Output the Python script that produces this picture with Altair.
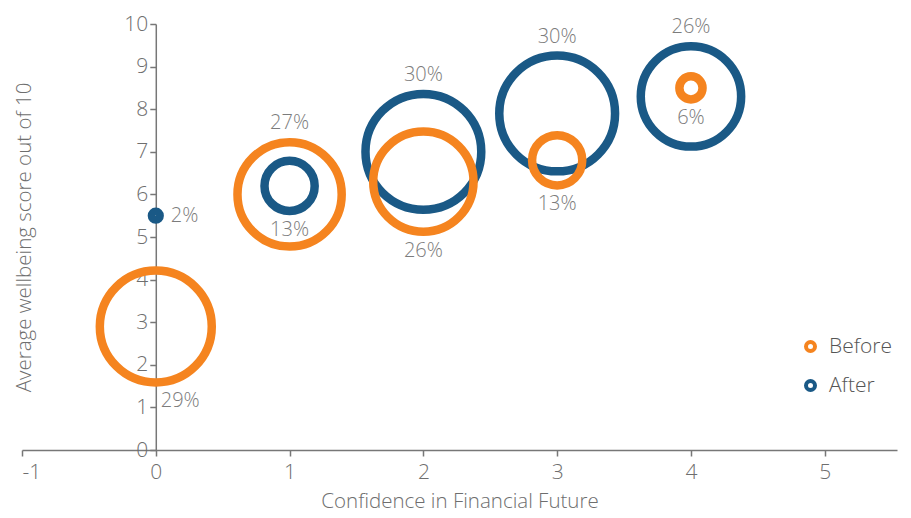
import altair as alt
import pandas as pd

# ---- data ----
x_values = [0, 1, 2, 3, 4]
before_scores = [2.9, 6.0, 6.3, 6.8, 8.5]
before_pct = [29, 27, 26, 13, 6]
before_place = ["belowright", "above", "below", "below", "below"]
after_scores = [5.5, 6.2, 7.0, 7.9, 8.3]
after_pct = [2, 13, 30, 30, 26]
after_place = ["right", "below", "above", "above", "above"]
x_ticks = [-1, 0, 1, 2, 3, 4, 5]
y_ticks = list(range(0, 11))
series = ["Before", "After"]
colors = ["#F5841F", "#1A5986"]

# ---- layout / style ----
W, H = 875, 426
X_DOMAIN = [-1, 5.54]
Y_DOMAIN = [0, 10]
PX_PER_PCT = 1.93          # bubble radius in px per percentage point
PPU_Y = H / (Y_DOMAIN[1] - Y_DOMAIN[0])
X0_PX = W * (0 - X_DOMAIN[0]) / (X_DOMAIN[1] - X_DOMAIN[0])
FONT = "Open Sans"
WEIGHT = 300
GREY = "#6e6e6e"
LABEL_GREY = "#7c7c7c"

rows = []
for s, ys, ps, pl in [("Before", before_scores, before_pct, before_place),
                      ("After", after_scores, after_pct, after_place)]:
    for xv, yv, pv, place in zip(x_values, ys, ps, pl):
        rows.append({"series": s, "x": xv, "y": yv, "pct": pv, "place": place,
                     "label": f"{pv}%"})
df = pd.DataFrame(rows)

max_size = 4 * (PX_PER_PCT * 30) ** 2

axis_common = dict(grid=False, tickSize=6,
                   labelFontSize=21, titleFontSize=20.5,
                   labelColor=GREY, titleColor=GREY,
                   domainColor="#777777", tickColor="#777777",
                   domainWidth=1.5, tickWidth=1.5,
                   labelFont=FONT, titleFont=FONT,
                   labelFontWeight=WEIGHT, titleFontWeight=WEIGHT,
                   labelExpr="'' + datum.value")

x_enc = alt.X("x:Q", scale=alt.Scale(domain=X_DOMAIN, nice=False, zero=False),
              axis=alt.Axis(values=x_ticks, title="Confidence in Financial Future",
                            labelPadding=5, titlePadding=9, **axis_common))
y_enc = alt.Y("y:Q", scale=alt.Scale(domain=Y_DOMAIN, nice=False),
              axis=alt.Axis(values=y_ticks, title="Average wellbeing score out of 10",
                            labelPadding=2, offset=-X0_PX, titleX=-X0_PX + 12,
                            **axis_common))
color_enc = alt.Color("series:N", scale=alt.Scale(domain=series, range=colors),
                      legend=alt.Legend(title=None, orient="none",
                                        legendX=778, legendY=312,
                                        symbolType="circle", symbolSize=81,
                                        symbolStrokeWidth=4, symbolFillColor="white",
                                        labelFontSize=21, labelColor="#555555",
                                        labelFont=FONT, labelFontWeight=WEIGHT,
                                        rowPadding=14, labelOffset=8))
size_enc = alt.Size("pct:Q", scale=alt.Scale(type="pow", exponent=2, domain=[0, 30],
                                             range=[0, max_size]), legend=None)

base = alt.Chart(df)

def bubbles(name):
    return base.transform_filter(alt.datum.series == name).mark_point(
        shape="circle", filled=False, strokeWidth=8.5, opacity=1
    ).encode(x=x_enc, y=y_enc, color=color_enc, size=size_enc)

lab = base.transform_calculate(
    off=f"({PX_PER_PCT} * datum.pct + 19) / {PPU_Y}"
).transform_calculate(
    ly="datum.place == 'above' ? datum.y + datum.off : (datum.place == 'right' ? datum.y : datum.y - datum.off)"
)

text_kw = dict(fontSize=20, color=LABEL_GREY, font=FONT, fontWeight=WEIGHT, baseline="middle")

lab_center = lab.transform_filter(
    "datum.place == 'above' || datum.place == 'below'"
).mark_text(align="center", **text_kw).encode(x="x:Q", y="ly:Q", text="label:N")
lab_right = lab.transform_filter("datum.place == 'right'").mark_text(
    align="left", dx=15, **text_kw).encode(x="x:Q", y="ly:Q", text="label:N")
lab_br = lab.transform_filter("datum.place == 'belowright'").mark_text(
    align="left", dx=5, **text_kw).encode(x="x:Q", y="ly:Q", text="label:N")

chart = alt.layer(
    bubbles("After"), bubbles("Before"), lab_center, lab_right, lab_br
).properties(width=W, height=H).configure_view(stroke=None)

chart.save("out.html", embed_options={"renderer": "svg", "actions": False})
